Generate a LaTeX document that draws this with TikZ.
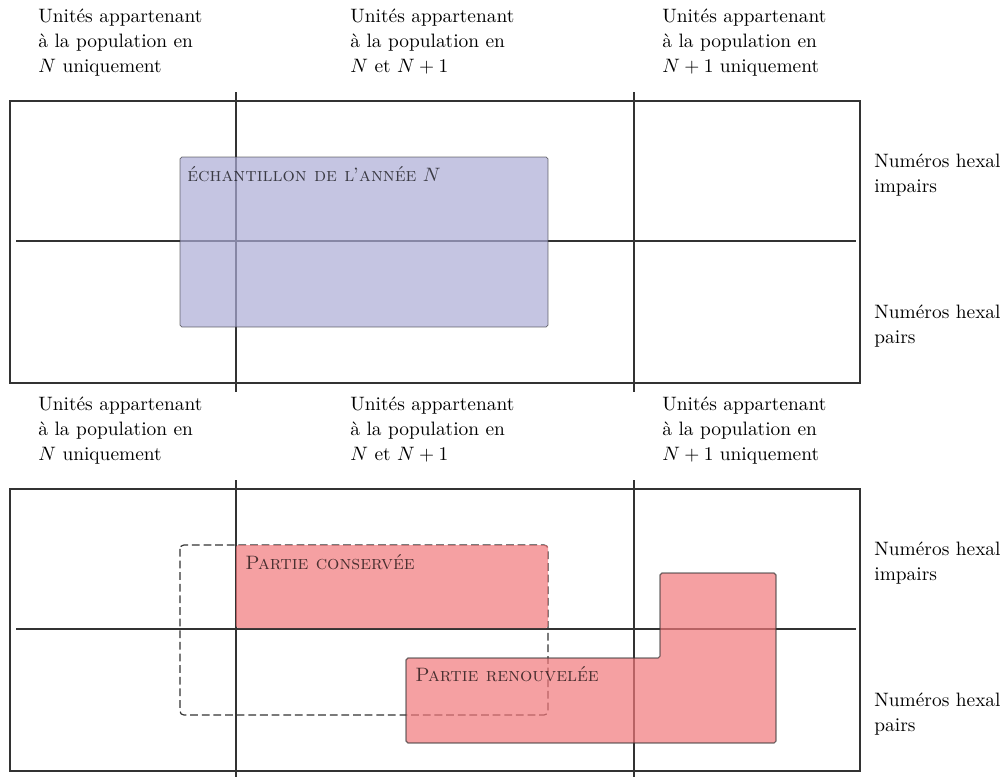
\documentclass[tikz,border=0pt]{standalone}
\usepackage{amsmath,amssymb}
\usetikzlibrary{positioning, calc}

\definecolor{echblue}{RGB}{172,172,214}
\definecolor{partred}{RGB}{241,119,122}

\begin{document}
\begin{tikzpicture}[x=0.01812cm, y=-0.01812cm,
  frame/.style={draw=black!80, semithick},
  collabel/.style={anchor=north west, inner sep=0pt, align=left, font=\fontsize{10}{12.9}\selectfont},
  boxlabel/.style={anchor=north west, inner sep=0pt, text opacity=0.7},
  shaded/.style={opacity=0.7, rounded corners=1pt}]
  \useasboundingbox (0,0) rectangle (1008,776);
  % the two panels, year N and year N+1
  \foreach \dy in {0,388} {
    \begin{scope}[shift={(0,\dy)}]
      \draw[frame] (10,101) rectangle (860,383);
      \draw[frame] (236,92) -- (236,392);
      \draw[frame] (634,92) -- (634,392);
      \draw[frame] (16,241) -- (856,241);
      \node[collabel] (onlyN-\dy) at (38,9) {Unités appartenant\\à la population en\\$N$ uniquement};
      \node[collabel] (both-\dy) at (350,9) {Unités appartenant\\à la population en\\$N$ et $N+1$};
      \node[collabel] (onlyNp-\dy) at (662,9) {Unités appartenant\\à la population en\\$N+1$ uniquement};
      \node[collabel] (odd-\dy) at (874,154) {Numéros hexal\\impairs};
      \node[collabel] (even-\dy) at (874,305) {Numéros hexal\\pairs};
    \end{scope}
  }
  % sample of year N
  \path[shaded, fill=echblue, draw=black!80] (180,157) rectangle (548,327);
  \node[boxlabel] (ech) at (187,166) {\textsc{échantillon de l'année} $N$};
  % sample of year N+1
  \draw[black!80, semithick, dash pattern=on 4pt off 2pt, rounded corners=2pt] (180,545) rectangle (548,715);
  \path[shaded, fill=partred] (236,545) rectangle (548,628);
  \node[boxlabel] (cons) at (245,554) {\textsc{Partie conservée}};
  \path[shaded, fill=partred, draw=black!80, semithick] (406,658) -- (660,658) -- (660,573) -- (776,573) -- (776,743) -- (406,743) -- cycle;
  \node[boxlabel] (renew) at (415,666) {\textsc{Partie renouvelée}};
\end{tikzpicture}
\end{document}
